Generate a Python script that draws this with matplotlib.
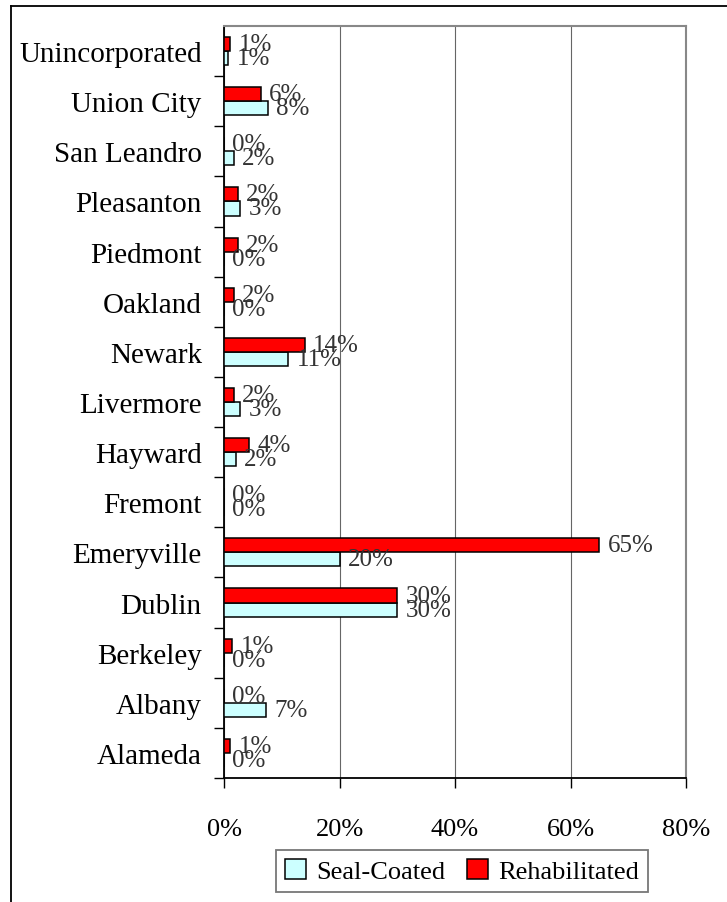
import matplotlib.pyplot as plt
from matplotlib.lines import Line2D
from matplotlib.ticker import FixedLocator, FuncFormatter

cities = ["Alameda", "Albany", "Berkeley", "Dublin", "Emeryville", "Fremont",
          "Hayward", "Livermore", "Newark", "Oakland", "Piedmont", "Pleasanton",
          "San Leandro", "Union City", "Unincorporated"]
seal_coated = [0.0, 7.3, 0.0, 30.0, 20.0, 0.0, 2.0, 2.8, 11.1, 0.0, 0.0, 2.8, 1.7, 7.6, 0.7]
rehabilitated = [1.1, 0.0, 1.4, 30.0, 65.0, 0.0, 4.3, 1.7, 14.0, 1.7, 2.4, 2.4, 0.0, 6.4, 1.1]
x_ticks = [0, 20, 40, 60, 80]

plt.rcParams["font.family"] = ["Liberation Serif", "DejaVu Serif"]

fig = plt.figure(figsize=(7.27, 9.03), dpi=100)
ax = fig.add_axes([224 / 727, 1 - 779 / 903, (686 - 224) / 727, (779 - 27) / 903])

pos = list(range(len(cities)))
h = 0.28
ax.barh([p - h / 2 for p in pos], seal_coated, height=h, color="#CCFFFF",
        edgecolor="black", linewidth=1.1, label="Seal-Coated", zorder=3)
ax.barh([p + h / 2 for p in pos], rehabilitated, height=h, color="#FF0000",
        edgecolor="black", linewidth=1.1, label="Rehabilitated", zorder=3)

# data labels (they overlap in the original too)
for p, s, r in zip(pos, seal_coated, rehabilitated):
    ax.annotate(f"{r:.0f}%", (r, p + h / 2), xytext=(6, 0), textcoords="offset points",
                ha="left", va="center", fontsize=18, color="#333333", zorder=4)
    ax.annotate(f"{s:.0f}%", (s, p - h / 2), xytext=(6, 0), textcoords="offset points",
                ha="left", va="center", fontsize=18, color="#333333", zorder=4)

ax.set_xlim(0, 80)
ax.set_ylim(-0.5, len(cities) - 0.5)
ax.set_xticks(x_ticks)
ax.xaxis.set_major_formatter(FuncFormatter(lambda v, _: f"{v:.0f}%"))
ax.tick_params(axis="x", direction="out", length=7, width=1, pad=22, labelsize=19)
ax.grid(axis="x", color="#666666", linewidth=0.8, zorder=0)

ax.set_yticks(pos)
ax.set_yticklabels(cities)
ax.yaxis.set_minor_locator(FixedLocator([p + 0.5 for p in pos[:-1]] + [-0.5]))
ax.tick_params(axis="y", which="major", length=0, pad=16, labelsize=21)
ax.tick_params(axis="y", which="minor", direction="out", length=7, width=1)

for side in ["top", "right"]:
    ax.spines[side].set_color("#888888")
    ax.spines[side].set_linewidth(1.5)
for side in ["left", "bottom"]:
    ax.spines[side].set_color("black")
    ax.spines[side].set_linewidth(1.3)

leg = fig.legend(loc="center", bbox_to_anchor=(462 / 727, 1 - 872 / 903), ncol=2,
                 fontsize=19, fancybox=False, edgecolor="#777777", framealpha=1,
                 handlelength=0.8, handleheight=0.8, handletextpad=0.4,
                 columnspacing=0.8, borderpad=0.35)
leg.get_frame().set_linewidth(1.3)

# outer chart border
x0, y0 = 11 / 727, 1 - 7 / 903
fig.add_artist(Line2D([x0, 1], [y0, y0], color="black", linewidth=1.3))
fig.add_artist(Line2D([x0, x0], [y0, 0], color="black", linewidth=1.3))

fig.savefig("out.png", dpi=100)
